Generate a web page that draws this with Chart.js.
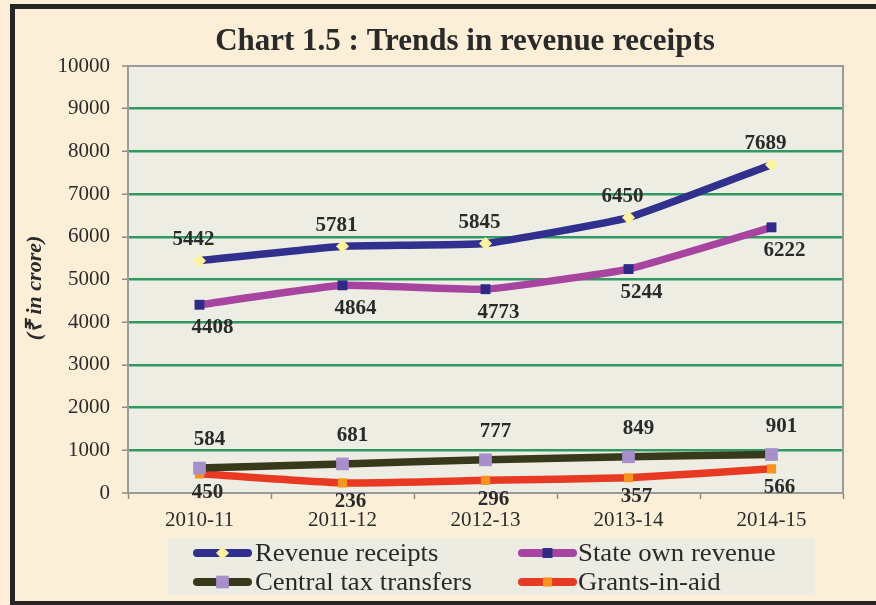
<!DOCTYPE html>
<html><head><meta charset="utf-8">
<script src="https://cdn.jsdelivr.net/npm/chart.js@4/dist/chart.umd.min.js"></script>
<style>html,body{margin:0;padding:0;background:#FCEFD8;overflow:hidden}#wrap{width:876px;height:605px;position:relative}</style>
</head><body><div id="wrap"><canvas id="c" width="876" height="605"></canvas></div>
<script>
const categories = ['2010-11', '2011-12', '2012-13', '2013-14', '2014-15'];
const revenueReceipts = [5442, 5781, 5845, 6450, 7689];
const stateOwnRevenue = [4408, 4864, 4773, 5244, 6222];
const centralTaxTransfers = [584, 681, 777, 849, 901];
const grantsInAid = [450, 236, 296, 357, 566];
const seriesNames = ['Revenue receipts', 'State own revenue', 'Central tax transfers', 'Grants-in-aid'];
const yMin = 0, yMax = 10000, yStep = 1000;
const chartTitle = 'Chart 1.5 : Trends in revenue receipts';
const yAxisTitle = '(\u20B9 in crore)';

const SERIF = '"Liberation Serif", "Times New Roman", serif';
const TEXT = '#2a2a2a';

function ds(label, data, line, marker, style, radius, dx, dy) {
  return {
    label, data, borderColor: line, backgroundColor: marker,
    pointBackgroundColor: marker, pointBorderColor: marker, pointBorderWidth: 0,
    pointStyle: style, pointRadius: radius, pointHoverRadius: radius,
    borderWidth: 7.5, tension: 0.12, fill: false, borderJoinStyle: 'round',
    labelDx: dx, labelDy: dy
  };
}

const bgPlugin = {
  id: 'bg',
  beforeDraw(chart) {
    const c = chart.ctx, a = chart.chartArea;
    c.save();
    c.fillStyle = '#FCEFD8';
    c.fillRect(0, 0, chart.width, chart.height);
    c.fillStyle = '#EEEDE4';
    c.fillRect(a.left, a.top, a.right - a.left, a.bottom - a.top);
    // outer frame
    c.fillStyle = '#262626';
    c.fillRect(10, 4, chart.width - 10, 5);
    c.fillRect(10, 4, 5, chart.height - 4);
    c.fillRect(10, 601, chart.width - 10, 4);
    // title
    c.fillStyle = TEXT;
    c.font = 'bold 31px ' + SERIF;
    c.textAlign = 'center';
    c.textBaseline = 'middle';
    c.fillText(chartTitle, 465, 42);
    // y-axis title
    c.translate(35, 288);
    c.rotate(-Math.PI / 2);
    c.font = 'italic bold 22px ' + SERIF;
    c.fillText(yAxisTitle, 0, 0);
    c.restore();
  },
  beforeDatasetsDraw(chart) {
    const c = chart.ctx, a = chart.chartArea;
    c.save();
    c.strokeStyle = '#9a9a9a';
    c.lineWidth = 2;
    c.strokeRect(a.left, a.top, a.right - a.left, a.bottom - a.top);
    c.restore();
  },
  afterDatasetsDraw(chart) {
    const c = chart.ctx;
    c.save();
    c.fillStyle = TEXT;
    c.font = 'bold 21px ' + SERIF;
    c.textAlign = 'center';
    c.textBaseline = 'middle';
    chart.data.datasets.forEach((d, i) => {
      const meta = chart.getDatasetMeta(i);
      meta.data.forEach((pt, j) => {
        c.fillText(String(d.data[j]), pt.x + d.labelDx, pt.y + d.labelDy);
      });
    });
    c.restore();
  },
  afterDraw(chart) {
    const c = chart.ctx;
    c.save();
    c.fillStyle = '#EDECE3';
    c.fillRect(168, 538, 647, 57);
    const cols = [{x1: 197, x2: 248, tx: 255}, {x1: 522, x2: 573, tx: 578}];
    const rows = [553, 582];
    chart.data.datasets.forEach((d, k) => {
      const col = cols[k % 2], y = rows[Math.floor(k / 2)];
      c.strokeStyle = d.borderColor;
      c.lineWidth = 8;
      c.lineCap = 'round';
      c.beginPath(); c.moveTo(col.x1, y); c.lineTo(col.x2, y); c.stroke();
      const mx = (col.x1 + col.x2) / 2, r = d.pointRadius;
      c.fillStyle = d.pointBackgroundColor;
      if (d.pointStyle === 'rectRot') {
        c.beginPath();
        c.moveTo(mx, y - r); c.lineTo(mx + r, y); c.lineTo(mx, y + r); c.lineTo(mx - r, y);
        c.closePath(); c.fill();
      } else {
        const h = Math.SQRT1_2 * r;
        c.fillRect(mx - h, y - h, 2 * h, 2 * h);
      }
      c.save();
      c.fillStyle = TEXT;
      c.font = '25px ' + SERIF;
      c.textAlign = 'left';
      c.textBaseline = 'middle';
      c.translate(col.tx, y + 1);
      c.scale(1.07, 1);
      c.fillText(d.label, 0, 0);
      c.restore();
    });
    c.restore();
  }
};

new Chart(document.getElementById('c'), {
  type: 'line',
  data: {
    labels: categories,
    datasets: [
      ds(seriesNames[0], revenueReceipts, '#31308F', '#FDF39A', 'rectRot', 6.5, -6, -21),
      ds(seriesNames[1], stateOwnRevenue, '#A6449F', '#2E2A87', 'rect', 7, 13, 23),
      ds(seriesNames[2], centralTaxTransfers, '#38381A', '#A88FCC', 'rect', 9, 10, -28),
      ds(seriesNames[3], grantsInAid, '#E83A22', '#F7941E', 'rect', 6.5, 8, 19)
    ]
  },
  options: {
    responsive: false,
    animation: false,
    devicePixelRatio: 1,
    layout: {padding: {left: 14, right: 33, top: 66, bottom: 72}},
    plugins: {legend: {display: false}, title: {display: false}, tooltip: {enabled: false}},
    scales: {
      x: {
        offset: true,
        grid: {display: true, drawOnChartArea: false, offset: true, tickLength: 6, tickColor: '#8a8a8a', tickWidth: 1.5},
        border: {display: true, color: '#9a9a9a', width: 2},
        ticks: {color: TEXT, font: {family: SERIF, size: 21}, padding: 9, maxRotation: 0},
        afterFit(s) { s.height = 40; }
      },
      y: {
        min: yMin, max: yMax,
        grid: {
          color: (ctx) => (ctx.tick && (ctx.tick.value === yMin || ctx.tick.value === yMax)) ? '#9a9a9a' : '#2E9A62',
          lineWidth: (ctx) => (ctx.tick && (ctx.tick.value === yMin || ctx.tick.value === yMax)) ? 2 : 2.5,
          tickLength: 6, tickColor: '#8a8a8a', tickWidth: 1.5
        },
        border: {display: true, color: '#9a9a9a', width: 2},
        ticks: {stepSize: yStep, color: TEXT, font: {family: SERIF, size: 21}, padding: 12,
          callback: (v) => String(v)},
        title: {display: false},
        afterFit(s) { s.width = 114; }
      }
    }
  },
  plugins: [bgPlugin]
});
</script></body></html>
